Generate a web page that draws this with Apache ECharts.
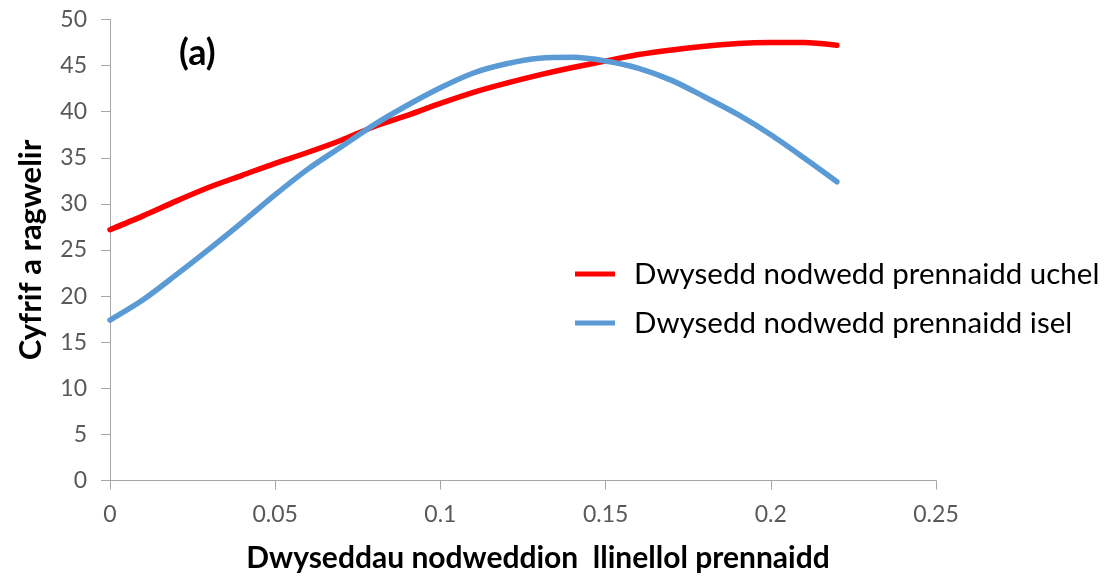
<!DOCTYPE html>
<html>
<head>
<meta charset="utf-8">
<script src="https://cdn.jsdelivr.net/npm/echarts@6/dist/echarts.min.js"></script>
<style>
html,body{margin:0;padding:0;background:#fff;}
#chart{width:1104px;height:578px;}
</style>
</head>
<body>
<div id="chart"></div>
<script>
const xValues = [0, 0.01, 0.02, 0.03, 0.04, 0.05, 0.06, 0.07, 0.08, 0.09, 0.10, 0.11,
                 0.12, 0.13, 0.14, 0.15, 0.16, 0.17, 0.18, 0.19, 0.20, 0.21, 0.22];
const highSeries = [27.2, 28.7, 30.3, 31.8, 33.1, 34.4, 35.6, 36.9, 38.4, 39.6, 40.9, 42.1,
                    43.1, 44.0, 44.8, 45.5, 46.2, 46.7, 47.1, 47.4, 47.5, 47.5, 47.2];
const lowSeries = [17.4, 19.6, 22.3, 25.1, 28.0, 31.0, 33.8, 36.2, 38.6, 40.7, 42.6, 44.2,
                   45.2, 45.8, 45.9, 45.5, 44.7, 43.4, 41.6, 39.7, 37.5, 35.0, 32.4];
const seriesNames = ['Dwysedd nodwedd prennaidd uchel', 'Dwysedd nodwedd prennaidd isel'];
const xAxisTitle = 'Dwyseddau nodweddion  llinellol prennaidd';
const yAxisTitle = 'Cyfrif a ragwelir';
const panelLabel = '(a)';

const pairs = (ys) => xValues.map((x, i) => [x, ys[i]]);
const FONT = 'Lato, "Open Sans", sans-serif';
const axisGray = '#a6a6a6';
const labelGray = '#595959';

const chart = echarts.init(document.getElementById('chart'), null, {renderer: 'canvas'});
chart.setOption({
  animation: false,
  backgroundColor: '#ffffff',
  textStyle: {fontFamily: FONT},
  title: {
    text: panelLabel,
    left: 174, top: 30,
    textStyle: {fontFamily: FONT, fontWeight: 'bold', fontSize: 36, color: '#000'}
  },
  grid: {left: 110, right: 168, top: 19.5, bottom: 97.5, containLabel: false, outerBoundsMode: 'none'},
  legend: {
    orient: 'vertical',
    left: 570, top: 254,
    itemWidth: 40, itemHeight: 5, itemGap: 19,
    icon: 'rect',
    data: seriesNames,
    textStyle: {fontFamily: FONT, fontSize: 29.5, color: '#000', padding: [0, 0, 0, 14]}
  },
  xAxis: {
    type: 'value', min: 0, max: 0.25, interval: 0.05,
    name: xAxisTitle, nameLocation: 'middle', nameGap: 63,
    nameTextStyle: {fontFamily: FONT, fontWeight: 'bold', fontSize: 30, color: '#000', padding: [0, 0, 0, 30]},
    axisLine: {show: true, lineStyle: {color: axisGray, width: 1}},
    axisTick: {show: true, length: 9, lineStyle: {color: axisGray}},
    axisLabel: {margin: 23, fontSize: 23, color: labelGray, fontFamily: FONT},
    splitLine: {show: false}
  },
  yAxis: {
    type: 'value', min: 0, max: 50, interval: 5,
    name: yAxisTitle, nameLocation: 'middle', nameGap: 64, nameRotate: 90,
    nameTextStyle: {fontFamily: FONT, fontWeight: 'bold', fontSize: 31, color: '#000'},
    axisLine: {show: true, lineStyle: {color: axisGray, width: 1}},
    axisTick: {show: true, length: 9, lineStyle: {color: axisGray}},
    axisLabel: {margin: 23, fontSize: 23, color: labelGray, fontFamily: FONT},
    splitLine: {show: false}
  },
  series: [
    {
      name: seriesNames[0], type: 'line', data: pairs(highSeries),
      showSymbol: false, smooth: 0.3,
      lineStyle: {color: '#ff0000', width: 5.5, cap: 'round'},
      itemStyle: {color: '#ff0000'}
    },
    {
      name: seriesNames[1], type: 'line', data: pairs(lowSeries),
      showSymbol: false, smooth: 0.3,
      lineStyle: {color: '#5b9bd5', width: 5.5, cap: 'round'},
      itemStyle: {color: '#5b9bd5'}
    }
  ]
});
</script>
</body>
</html>
